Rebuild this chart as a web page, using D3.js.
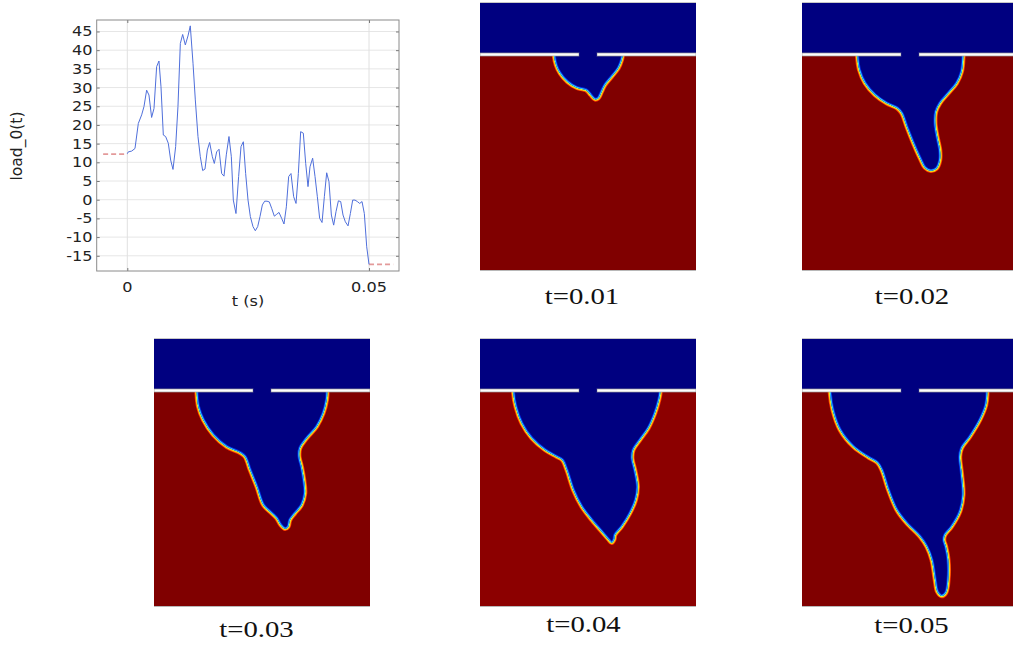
<html>
<head>
  <meta charset="utf-8">
  <script src="https://d3js.org/d3.v7.min.js"></script>
  <style>
    body { margin: 0; background: #fff; }
  </style>
</head>
<body>
  <svg id="fig" width="1013" height="649"></svg>
  <script>
    // load curve, t in ms
    const tMs = [0, 0.21, 0.9, 1.59, 2.28, 2.97, 3.45, 4.0, 4.48, 5.03, 5.52, 6.07, 6.55, 6.97, 7.45, 7.93, 8.48, 8.97, 9.45,
      10.0, 10.48, 10.97, 11.45, 12.0, 12.55, 13.03, 13.59, 14.07, 14.62, 15.1, 15.59, 16.07, 16.55, 17.03, 17.59, 18.0,
      18.48, 18.97, 19.52, 20.0, 20.48, 21.03, 21.52, 21.93, 22.48, 23.03, 23.52, 24.0, 24.48, 24.97, 25.45, 26.0, 26.48,
      26.97, 27.45, 27.93, 28.41, 28.9, 29.38, 29.86, 30.41, 30.9, 31.38, 31.93, 32.41, 32.9, 33.38, 33.86, 34.41, 34.9,
      35.38, 35.86, 36.41, 36.9, 37.38, 37.79, 38.34, 38.83, 39.31, 39.79, 40.28, 40.76, 41.24, 41.72, 42.21, 42.69,
      43.17, 43.66, 44.14, 44.62, 45.1, 45.66, 46.14, 46.62, 47.1, 47.59, 48.07, 48.55, 49.03, 49.52, 50.0];
    const load = [12.3, 12.8, 13.0, 13.7, 20.4, 22.7, 24.9, 29.3, 28.0, 22.0, 24.4, 35.6, 37.1, 30.2, 17.3, 16.9, 15.1, 10.6, 8.1,
      14.2, 24.9, 41.8, 44.2, 41.4, 43.8, 46.5, 36.5, 26.7, 16.9, 11.5, 7.8, 8.2, 13.3, 15.3, 11.5, 9.7,
      12.8, 13.5, 7.0, 6.3, 12.0, 16.9, 11.5, -0.1, -3.7, 6.2, 14.2, 15.5, 7.0, -0.1, -4.5, -7.2, -8.3,
      -7.2, -4.5, -1.4, -0.4, -0.4, -0.6, -2.3, -4.4, -3.9, -3.4, -5.0, -6.5, -1.9, 6.2, 7.0, 0.8, -1.0,
      7.0, 18.2, 17.8, 9.7, 3.5, 8.8, 11.1, 6.2, 0.8, -5.0, -6.1, 0.8, 7.2, 4.8, -4.1, -6.8,
      -3.2, -0.3, -0.5, -4.1, -5.9, -7.0, -3.7, -0.1, -0.1, -0.5, -1.0, -0.5, -3.7, -12.6, -17.3];
    const yTicks = [45, 40, 35, 30, 25, 20, 15, 10, 5, 0, -5, -10, -15];
    const xTicks = [0, 0.05];
    const xTickLabels = ["0", "0.05"];
    const startLevel = 12.2, endLevel = -17.3;
    const startSpan = [-0.005, 0], endSpan = [0.05, 0.055];

    // interface outlines, panel units (216 x 269, bar at 52)
    const plume01 = [[74, 53], [76, 63], [80, 71.3], [87.3, 79.7], [96.7, 85.7], [103.3, 87.3], [106.7, 88.5], [110.7, 93],
      [115, 97.3], [118.3, 96.3], [121.7, 89.7], [125, 83], [131.7, 74.7], [138.3, 66.3], [141.7, 58], [142.7, 53]];
    const plume02 = [[55.3, 54], [57.3, 68], [63, 81.3], [73, 93], [84.7, 101.3], [95.3, 106.3], [99.7, 111.3], [104.7, 124.7],
      [111.3, 141.3], [118, 156.3], [123, 165.7], [128.7, 168.7], [134.7, 166.3], [138, 158], [138, 148], [135.3, 134.7],
      [133.3, 121.3], [134, 109.7], [138, 101.3], [146.3, 91.3], [154.7, 81.3], [159.7, 69.7], [161.3, 54]];
    const plume03 = [[42.7, 54.7], [44.3, 68.7], [49.3, 82], [59.3, 97], [72.7, 108.7], [86, 114.7], [91, 118.7], [96, 132],
      [102.7, 148.7], [109.3, 167], [117.7, 175.3], [122.7, 180.3], [126.7, 187], [131, 190.7], [134.3, 188.7], [136, 182],
      [141, 175.3], [147.7, 167], [151, 155.3], [150, 142], [147.7, 128.7], [145.3, 118.7], [146, 110.3], [152.7, 100.3],
      [162.7, 88.7], [169.3, 75.3], [172.7, 62], [173.3, 54.7]];
    const plume04 = [[33.3, 54.7], [35.7, 68.7], [41.7, 85.3], [51.7, 100.3], [65, 112], [76.7, 118.7], [82.3, 122], [86.7, 132],
      [93.3, 152], [101.7, 168.7], [111.7, 182], [121.7, 193.7], [128.3, 201.3], [131.7, 204.7], [134.3, 201.3], [135, 197],
      [141.7, 188.7], [150, 175.3], [155.7, 162], [157.7, 148.7], [155, 132], [152.3, 120.3], [153.3, 112], [160, 102],
      [168.3, 90.3], [175, 75.3], [179, 62], [180.3, 54.7]];
    const plume05 = [[28, 54.7], [30.7, 72], [38, 92], [51.3, 108.7], [66.3, 119.3], [75.3, 124.7], [79.7, 132], [86.3, 152],
      [94.7, 172], [104.7, 185.3], [118, 198.7], [124.7, 208.7], [129.7, 222], [133, 242], [135.3, 253.7], [139.7, 258],
      [144, 254.7], [146.3, 242], [146.3, 222], [144, 208.7], [142, 202], [143, 197], [149.7, 188.7], [158, 173.7],
      [161.3, 157], [159.7, 135.3], [158, 118.7], [159.7, 110.3], [168, 98.7], [178, 82], [184, 67], [185.3, 54.7]];
    const panelLabels = ["t=0.01", "t=0.02", "t=0.03", "t=0.04", "t=0.05"];

    const svg = d3.select("svg#fig");

    // ---------- load_0(t) plot ----------
    const frame = { left: 96.7, right: 399, top: 20, bottom: 271 };
    const xScale = d3.scaleLinear().domain([-0.00633, 0.0562]).range([frame.left, frame.right]);
    const yScale = d3.scaleLinear().domain([-19.07, 48.07]).range([frame.bottom, frame.top]);
    const plot = svg.append("g").attr("id", "plot");

    plot.selectAll("line.hgrid").data(yTicks).join("line")
      .attr("class", "hgrid")
      .attr("x1", frame.left).attr("x2", frame.right)
      .attr("y1", d => yScale(d)).attr("y2", d => yScale(d))
      .attr("stroke", "#e6e6e6");
    plot.selectAll("line.vgrid").data(xTicks).join("line")
      .attr("class", "vgrid")
      .attr("y1", frame.top).attr("y2", frame.bottom)
      .attr("x1", d => xScale(d)).attr("x2", d => xScale(d))
      .attr("stroke", "#e0e0e0");

    // inward ticks on all sides
    const tickLen = 3;
    plot.append("g").attr("transform", `translate(${frame.left},0)`)
      .call(d3.axisLeft(yScale).tickValues(yTicks).tickSize(-tickLen).tickFormat(""));
    plot.append("g").attr("transform", `translate(${frame.right},0)`)
      .call(d3.axisRight(yScale).tickValues(yTicks).tickSize(-tickLen).tickFormat(""));
    plot.append("g").attr("transform", `translate(0,${frame.bottom})`)
      .call(d3.axisBottom(xScale).tickValues(xTicks).tickSize(-tickLen).tickFormat(""));
    plot.append("g").attr("transform", `translate(0,${frame.top})`)
      .call(d3.axisTop(xScale).tickValues(xTicks).tickSize(-tickLen).tickFormat(""));
    plot.selectAll(".domain").remove();
    plot.selectAll(".tick line").attr("stroke", "#777");

    plot.append("rect")
      .attr("x", frame.left).attr("y", frame.top)
      .attr("width", frame.right - frame.left).attr("height", frame.bottom - frame.top)
      .attr("fill", "none").attr("stroke", "#8a8a8a");

    // extrapolation dashes
    [[startSpan, startLevel], [endSpan, endLevel]].forEach(([span, lvl]) => {
      plot.append("line")
        .attr("x1", xScale(span[0])).attr("x2", xScale(span[1]))
        .attr("y1", yScale(lvl)).attr("y2", yScale(lvl))
        .attr("stroke", "#e39a9a").attr("stroke-width", 1.6)
        .attr("stroke-dasharray", "5,3");
    });

    const lineGen = d3.line().x((d, i) => xScale(tMs[i] / 1000)).y(d => yScale(d));
    plot.append("path")
      .attr("d", lineGen(load))
      .attr("fill", "none").attr("stroke", "#4f6fdb").attr("stroke-width", 1);

    const stretch = 1.15;
    plot.selectAll("text.ytick").data(yTicks).join("text")
      .attr("class", "ytick")
      .attr("transform", d => `translate(92.5,${yScale(d) + 5}) scale(${stretch},1)`)
      .attr("text-anchor", "end")
      .attr("font-family", "DejaVu Sans").attr("font-size", 14).attr("fill", "#222")
      .text(d => String(d));
    plot.selectAll("text.xtick").data(xTicks).join("text")
      .attr("class", "xtick")
      .attr("transform", d => `translate(${xScale(d)},292) scale(${stretch},1)`)
      .attr("text-anchor", "middle")
      .attr("font-family", "DejaVu Sans").attr("font-size", 14).attr("fill", "#222")
      .text((d, i) => xTickLabels[i]);
    plot.append("text")
      .attr("transform", `translate(248,306) scale(${stretch},1)`)
      .attr("text-anchor", "middle")
      .attr("font-family", "DejaVu Sans").attr("font-size", 14).attr("fill", "#222")
      .text("t (s)");
    plot.append("text")
      .attr("transform", "translate(21.5,146) rotate(-90)")
      .attr("text-anchor", "middle")
      .attr("font-family", "DejaVu Sans").attr("font-size", 15.5).attr("fill", "#222")
      .text("load_0(t)");

    // ---------- phase field snapshots ----------
    const panelW = 216, panelH = 269, barY = 51, gap = [99, 117];
    const panels = [
      { outline: plume01, x: 480, y: 2, red: "#800000", labelX: 582, labelY: 304 },
      { outline: plume02, x: 802, y: 2, red: "#800000", labelX: 912, labelY: 304 },
      { outline: plume03, x: 154, y: 338, red: "#800000", labelX: 256.5, labelY: 637 },
      { outline: plume04, x: 480, y: 338, red: "#8c0000", labelX: 583.5, labelY: 632 },
      { outline: plume05, x: 802, y: 338, red: "#800000", labelX: 911.5, labelY: 633 }
    ];

    panels.forEach((p, i) => {
      const px = d3.scaleLinear().domain([0, panelW]).range([p.x, p.x + panelW]);
      const py = d3.scaleLinear().domain([0, panelH]).range([p.y, p.y + panelH]);
      const g = svg.append("g").attr("class", "panel");

      const clipId = `clip${i}`;
      const outer = `outer${i}`;
      g.append("clipPath").attr("id", outer).append("rect")
        .attr("x", p.x).attr("y", p.y).attr("width", Math.min(panelW, 1013 - p.x)).attr("height", panelH);

      const body = g.append("g").attr("clip-path", `url(#${outer})`);
      body.append("rect")
        .attr("x", px(0)).attr("y", py(0)).attr("width", px(panelW) - px(0)).attr("height", py(panelH) - py(0))
        .attr("fill", p.red);

      // close the outline above the bar so the seam is hidden
      const pts = [[p.outline[0][0], 40]].concat(p.outline, [[p.outline[p.outline.length - 1][0], 40]]);
      const d = d3.line().x(q => px(q[0])).y(q => py(q[1])).curve(d3.curveCatmullRom)(pts) + "Z";

      body.append("clipPath").attr("id", clipId).append("path").attr("d", d);

      // interface colour ramp, outside half
      [[4.6, "#ff3000"], [3.2, "#ffb000"], [1.8, "#d0ff40"]].forEach(([w, c]) => {
        body.append("path").attr("d", d).attr("fill", "none").attr("stroke", c).attr("stroke-width", w);
      });
      body.append("path").attr("d", d).attr("fill", "#000080");
      // inside half
      const inner = body.append("g").attr("clip-path", `url(#${clipId})`);
      [[3.6, "#0028e0"], [1.8, "#30d0ff"]].forEach(([w, c]) => {
        inner.append("path").attr("d", d).attr("fill", "none").attr("stroke", c).attr("stroke-width", w);
      });

      // upper fluid and the plate (with its opening)
      body.append("rect")
        .attr("x", px(0)).attr("y", py(0)).attr("width", px(panelW) - px(0)).attr("height", py(barY) - py(0))
        .attr("fill", "#000080");
      [[0, gap[0]], [gap[1], panelW]].forEach(([a, b]) => {
        body.append("rect")
          .attr("x", px(a)).attr("y", py(barY)).attr("width", px(b) - px(a)).attr("height", py(barY + 3) - py(barY))
          .attr("fill", "#fdfdfd").attr("stroke", "#9a9a9a").attr("stroke-width", 0.7);
      });
      body.append("rect")
        .attr("x", px(gap[0]) + 0.4).attr("y", py(barY)).attr("width", px(gap[1]) - px(gap[0]) - 0.8).attr("height", py(barY + 3) - py(barY))
        .attr("fill", "#000080");
      body.append("line")
        .attr("x1", px(0)).attr("x2", px(panelW))
        .attr("y1", py(panelH) - 0.5).attr("y2", py(panelH) - 0.5)
        .attr("stroke", "#b8b8b8").attr("stroke-width", 1);
      body.append("line")
        .attr("x1", px(0)).attr("x2", px(panelW))
        .attr("y1", py(0) + 0.5).attr("y2", py(0) + 0.5)
        .attr("stroke", "#c8c8c8").attr("stroke-width", 1);

      g.append("text")
        .attr("transform", `translate(${p.labelX},${p.labelY}) scale(1.25,1)`)
        .attr("text-anchor", "middle")
        .attr("font-family", "Liberation Serif").attr("font-size", 23).attr("fill", "#111")
        .text(panelLabels[i]);
    });
  </script>
</body>
</html>
